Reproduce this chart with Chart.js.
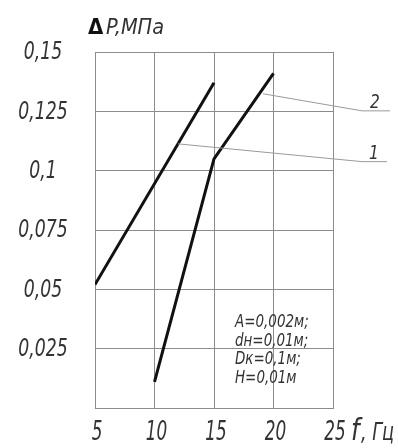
<!DOCTYPE html>
<html>
<head>
<meta charset="utf-8">
<script src="https://cdn.jsdelivr.net/npm/chart.js@4/dist/chart.umd.min.js"></script>
<style>
  html, body { margin: 0; padding: 0; background: #fff; }
  #wrap { width: 398px; height: 448px; }
</style>
</head>
<body>
<div id="wrap"><canvas id="dpChart"></canvas></div>
<script>
// frequency f, Hz
const freq1 = [5, 15];
const freq2 = [10, 15, 20];
// pressure drop dP, MPa
const dp1 = [0.052, 0.137];
const dp2 = [0.011, 0.105, 0.141];

const xTicks = [5, 10, 15, 20, 25];
const yTicks = [0.025, 0.05, 0.075, 0.1, 0.125, 0.15];

// leader lines for curve labels "1" and "2" (data units, run past the right edge)
const leader1X = [11.97, 27.44, 29.54];
const leader1Y = [0.1113, 0.1038, 0.1038];
const leader2X = [19.12, 27.44, 29.79];
const leader2Y = [0.1324, 0.1252, 0.1252];

const notes = ['A=0,002м;', 'dн=0,01м;', 'Dк=0,1м;', 'H=0,01м'];

const FONT = "'DejaVu Sans Condensed', 'DejaVu Sans', sans-serif";
const TXT = '#333';
const GRID = '#8c8c8c';

const toPts = (xs, ys) => xs.map((x, i) => ({ x: x, y: ys[i] }));
const fmt = v => String(Math.round(v * 1000) / 1000).replace('.', ',');

const curve = (xs, ys) => ({
    data: toPts(xs, ys),
    showLine: true,
    borderColor: '#111',
    borderWidth: 3,
    pointRadius: 0,
    tension: 0
});

// narrow italic text, squeezed horizontally like the drafting font
function txt(c, s, x, y, size, align, sx, style) {
    c.save();
    c.translate(x, y);
    c.scale(sx, 1);
    c.font = (style || 'italic') + ' ' + size + 'px ' + FONT;
    c.textAlign = align;
    c.fillText(s, 0, 0);
    c.restore();
}

const textPlugin = {
    id: 'texts',
    afterDraw(chart) {
        const c = chart.ctx;
        const xs = chart.scales.x, ys = chart.scales.y;
        c.save();
        c.fillStyle = TXT;

        // leaders
        c.strokeStyle = '#9a9a9a';
        c.lineWidth = 1;
        [[leader1X, leader1Y], [leader2X, leader2Y]].forEach(([lx, ly]) => {
            c.beginPath();
            lx.forEach((v, i) => {
                const px = xs.getPixelForValue(v), py = ys.getPixelForValue(ly[i]);
                if (i === 0) c.moveTo(px, py); else c.lineTo(px, py);
            });
            c.stroke();
        });

        // tick labels
        c.textBaseline = 'middle';
        yTicks.forEach(v => txt(c, fmt(v), 43, ys.getPixelForValue(v) + 1, 24, 'center', 0.8));
        c.textBaseline = 'alphabetic';
        xTicks.forEach(v => txt(c, String(v), xs.getPixelForValue(v) + 2, 440, 26, 'center', 0.72));

        // axis titles
        c.fillStyle = '#111';
        txt(c, 'Δ', 88, 34, 22, 'left', 1, 'bold');
        c.fillStyle = TXT;
        txt(c, 'P,МПа', 106, 34, 22, 'left', 0.98);
        txt(c, 'f', 351, 440, 30, 'left', 0.9);
        txt(c, ', Гц', 361, 440, 24, 'left', 0.82);

        // curve numbers
        txt(c, '2', xs.getPixelForValue(leader2X[2]) - 20, ys.getPixelForValue(leader2Y[2]) - 3, 19, 'left', 0.9);
        txt(c, '1', xs.getPixelForValue(leader1X[2]) - 18, ys.getPixelForValue(leader1Y[2]) - 3, 19, 'left', 0.9);

        // parameters
        notes.forEach((t, i) => txt(c, t, 235, 327 + i * 18.5, 17, 'left', 0.88));
        c.restore();
    }
};

new Chart(document.getElementById('dpChart'), {
    type: 'scatter',
    data: {
        datasets: [curve(freq1, dp1), curve(freq2, dp2)]
    },
    options: {
        responsive: true,
        maintainAspectRatio: false,
        animation: false,
        layout: { padding: { top: 52, right: 65, left: 0, bottom: 0 } },
        plugins: {
            legend: { display: false },
            tooltip: { enabled: false }
        },
        scales: {
            x: {
                type: 'linear',
                min: 5,
                max: 25,
                afterBuildTicks: s => { s.ticks = xTicks.map(v => ({ value: v })); },
                afterFit: s => { s.height = 40; },
                grid: { color: GRID, lineWidth: 1, drawTicks: false },
                border: { color: GRID, width: 1 },
                ticks: { display: false }
            },
            y: {
                type: 'linear',
                min: 0,
                max: 0.15,
                afterBuildTicks: s => { s.ticks = [0].concat(yTicks).map(v => ({ value: v })); },
                afterFit: s => { s.width = 95; },
                grid: { color: GRID, lineWidth: 1, drawTicks: false },
                border: { color: GRID, width: 1 },
                ticks: { display: false }
            }
        }
    },
    plugins: [textPlugin]
});
</script>
</body>
</html>
